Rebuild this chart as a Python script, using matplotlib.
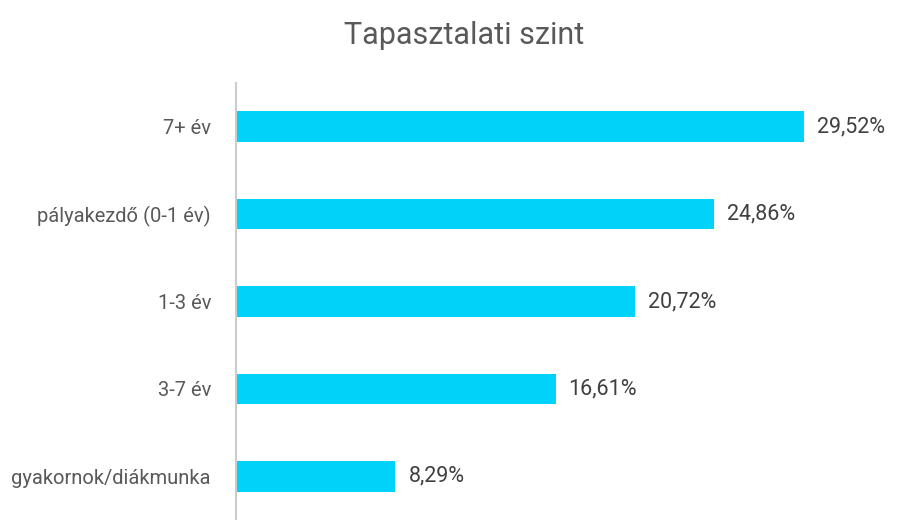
import matplotlib
matplotlib.use("Agg")
import matplotlib.pyplot as plt

categories = ['7+ év', 'pályakezdő (0-1 év)', '1-3 év', '3-7 év', 'gyakornok/diákmunka']
values = [29.52, 24.86, 20.72, 16.61, 8.29]
value_labels = ['29,52%', '24,86%', '20,72%', '16,61%', '8,29%']

plt.rcParams['font.family'] = ['Roboto', 'DejaVu Sans']

fig = plt.figure(figsize=(9.06, 5.2), dpi=100)
ax = fig.add_axes([236 / 906, 0, 670 / 906, 437 / 520])

y = list(range(len(categories)))
ax.barh(y, values, height=0.35, color='#00D2FA')
for yi, v, lab in zip(y, values, value_labels):
    ax.annotate(lab, (v, yi), xytext=(13, 0), textcoords='offset pixels',
                va='center', ha='left', fontsize=15.5, color='#404040')

ax.set_ylim(len(categories) - 0.5, -0.5)
ax.set_xlim(0, 670 / 19.24)
ax.set_yticks(y)
ax.set_yticklabels(categories, fontsize=14.5, color='#595959')
ax.tick_params(axis='y', length=0, pad=18)
ax.set_xticks([])
for s in ['top', 'right', 'bottom']:
    ax.spines[s].set_visible(False)
ax.spines['left'].set_color('#cccccc')
ax.spines['left'].set_linewidth(1.5)

fig.text(464 / 906, 1 - 35 / 520, 'Tapasztalati szint', ha='center', va='center',
         fontsize=22, color='#595959')

fig.savefig('out.png', dpi=100)
